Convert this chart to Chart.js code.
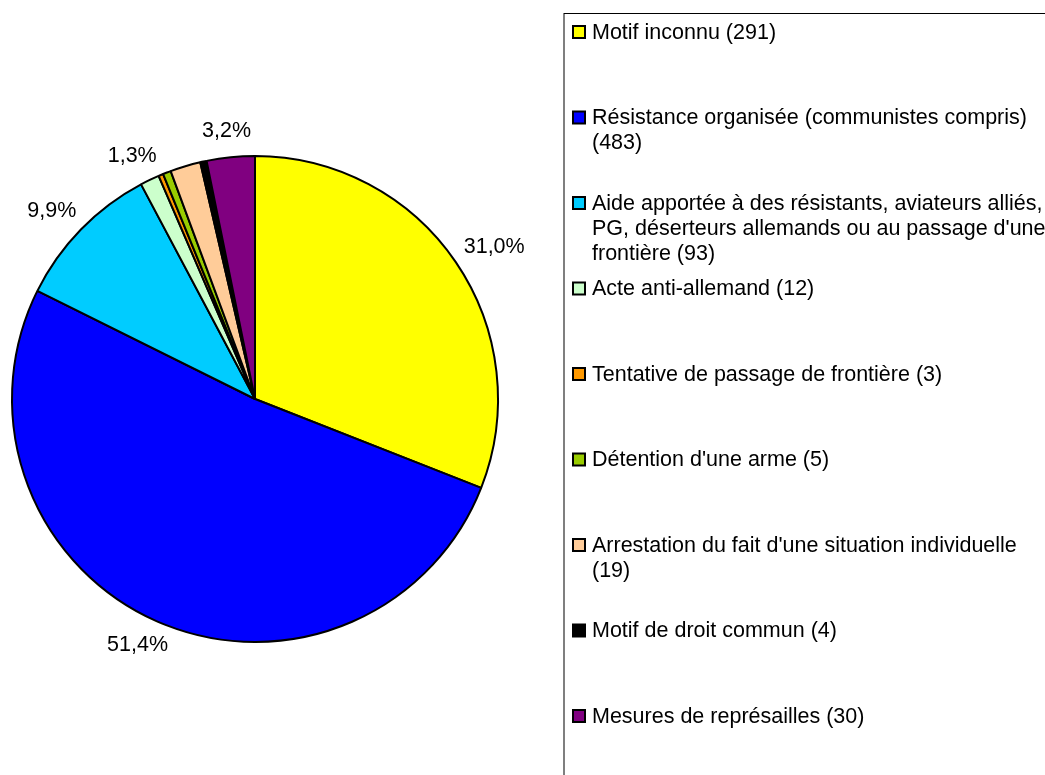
<!DOCTYPE html>
<html>
<head>
<meta charset="utf-8">
<script src="https://cdn.jsdelivr.net/npm/chart.js"></script>
<style>
  html, body { margin: 0; padding: 0; background: #fff; }
  canvas { display: block; }
</style>
</head>
<body>
<canvas id="motifChart" width="1045" height="775"></canvas>
<script>
let motifLabels = [
    "Motif inconnu",
    "Résistance organisée (communistes compris)",
    "Aide apportée à des résistants, aviateurs alliés, PG, déserteurs allemands ou au passage d'une frontière",
    "Acte anti-allemand",
    "Tentative de passage de frontière",
    "Détention d'une arme",
    "Arrestation du fait d'une situation individuelle",
    "Motif de droit commun",
    "Mesures de représailles"
];
let motifCounts = [291, 483, 93, 12, 3, 5, 19, 4, 30];
let motifColors = ["#FFFF00", "#0000FF", "#00CCFF", "#CCFFCC", "#FF9900", "#99CC00", "#FFCC99", "#000000", "#800080"];
// which slices carry a percentage label in the original
let showPct = [true, true, true, true, false, false, false, false, true];

const FONT = "21.5px 'Liberation Sans', Arial, sans-serif";
let total = motifCounts.reduce((a, b) => a + b, 0);

// percentage labels outside the pie
const pctLabels = {
    id: 'pctLabels',
    afterDatasetsDraw(chart) {
        let ctx = chart.ctx;
        let meta = chart.getDatasetMeta(0);
        ctx.save();
        ctx.font = FONT;
        ctx.fillStyle = '#000';
        ctx.textAlign = 'center';
        ctx.textBaseline = 'middle';
        meta.data.forEach((arc, i) => {
            if (!showPct[i]) return;
            let mid = (arc.startAngle + arc.endAngle) / 2;
            let txt = (motifCounts[i] / total * 100).toFixed(1).replace('.', ',') + '%';
            let w = ctx.measureText(txt).width;
            let r = arc.outerRadius + 16;
            let x = arc.x + Math.cos(mid) * r + Math.cos(mid) * w / 2;
            let y = arc.y + Math.sin(mid) * r + Math.sin(mid) * 10.5;
            ctx.fillText(txt, x, y);
        });
        ctx.restore();
    }
};

// legend box on the right with wrapped text
const sideLegend = {
    id: 'sideLegend',
    afterDraw(chart) {
        let ctx = chart.ctx;
        let boxX = 564, boxY = 13;
        let textX = 592, maxW = 455;
        let firstY = 32, slot = 85.5, lineH = 25;
        ctx.save();
        ctx.strokeStyle = '#000';
        ctx.lineWidth = 1;
        ctx.strokeRect(boxX, boxY + 0.5, 600, 800);
        ctx.font = FONT;
        ctx.textBaseline = 'middle';
        ctx.textAlign = 'left';
        motifLabels.forEach((lab, i) => {
            let y = firstY + slot * i;
            ctx.fillStyle = motifColors[i];
            ctx.fillRect(573, y - 6, 12, 12);
            ctx.strokeStyle = '#000';
            ctx.lineWidth = 2;
            ctx.strokeRect(573, y - 6, 12, 12);
            // wrap words
            let words = (lab + ' (' + motifCounts[i] + ')').split(' ');
            let lines = [];
            let cur = '';
            words.forEach(w => {
                let test = cur ? cur + ' ' + w : w;
                if (ctx.measureText(test).width > maxW && cur) {
                    lines.push(cur);
                    cur = w;
                } else {
                    cur = test;
                }
            });
            lines.push(cur);
            ctx.fillStyle = '#000';
            lines.forEach((ln, k) => ctx.fillText(ln, textX, y + 1 + k * lineH));
        });
        ctx.restore();
    }
};

new Chart(document.getElementById('motifChart'), {
    type: 'pie',
    data: {
        labels: motifLabels,
        datasets: [{
            data: motifCounts,
            backgroundColor: motifColors,
            borderColor: '#000',
            borderWidth: 2
        }]
    },
    options: {
        responsive: false,
        animation: false,
        layout: {
            padding: { left: 11, right: 546, top: 155, bottom: 132 }
        },
        plugins: {
            legend: { display: false },
            tooltip: { enabled: false }
        }
    },
    plugins: [pctLabels, sideLegend]
});
</script>
</body>
</html>
